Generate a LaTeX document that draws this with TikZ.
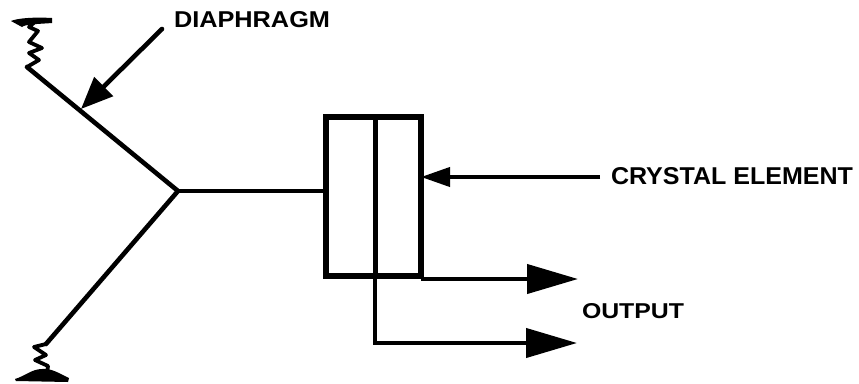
\documentclass[tikz,border=0pt]{standalone}
\usepackage{fontspec}
\setmainfont{Liberation Sans}
\usetikzlibrary{arrows.meta}
\newcommand{\fitlabel}[3]{\resizebox{#1pt}{#2pt}{\bfseries #3}}
\tikzset{
 x=1pt,y=-1pt,
 wire/.style={line width=4.6pt,draw=black,line cap=round,line join=round},
 boxline/.style={line width=6pt,draw=black},
 spring/.style={line width=3.8pt,draw=black,line join=round,line cap=round},
 bigtip/.style={line width=4.2pt,draw=black,line cap=butt,line join=miter,-{Triangle[length=51pt,width=29pt]}},
 smalltip/.style={line width=4pt,draw=black,line cap=butt,-{Triangle[length=29pt,width=19pt]}},
 difftip/.style={line width=4.6pt,draw=black,line cap=round,-{Triangle[length=32pt,width=26pt]}},
 lab/.style={inner sep=0pt,outer sep=0pt,anchor=west,text=black},
}
\begin{document}
\begin{tikzpicture}
\useasboundingbox (0,0) rectangle (859,383);
% hub and diaphragm
\coordinate (hub) at (178,191);
\coordinate (upper) at (27,67);
\coordinate (lower) at (46,344);
\coordinate (dtip) at (81,109);
\coordinate (dtail) at (162,29);
\draw[wire] (upper) -- (hub) -- (lower);
% crystal element
\node[boxline,rectangle,outer sep=0pt,minimum width=95pt,minimum height=159pt,inner sep=0pt,anchor=north west] (box) at (326,117) {};
\coordinate (boxtop) at (375,117);
\coordinate (turn) at (375,343);
\coordinate (out1) at (578,279);
\coordinate (out2) at (577,343);
\coordinate (ctail) at (600,177);
\draw[line width=3.6pt] (hub) -- (box.west |- hub);
\draw[boxline,line width=5pt] (boxtop) -- (boxtop |- box.south);
% outputs
\draw[bigtip] (box.east |- out1) -- (out1);
\draw[bigtip] (boxtop |- box.south) -- (turn) -- (out2);
% pointers
\draw[difftip] (dtail) -- (dtip);
\draw[smalltip] (ctail) -- (box.east |- ctail);
% upper spring
\draw[spring] (upper) -- (39,60) -- (29,53) -- (42,48) -- (29,42) -- (38,31) -- (29,27) -- (36,21);
\fill (11,21) .. controls (18,18) and (35,17) .. (52,18) -- (52,23) .. controls (40,24) and (25,24) .. (22,27) -- cycle;
% lower spring
\draw[spring] (lower) -- (34,347) -- (46,355) -- (35,360) -- (48,366) -- (47,374);
\fill (15,379) .. controls (25,376) and (32,369) .. (42,369) .. controls (52,368) and (60,374) .. (69,378) -- (68,382) -- (16,381) -- cycle;
% labels
\node[lab] (diaphragm) at (174,20) {\fitlabel{156}{16}{DIAPHRAGM}};
\node[lab] (crystal) at (611,176) {\fitlabel{242}{17}{CRYSTAL ELEMENT}};
\node[lab] (output) at (582,311) {\fitlabel{102}{15}{OUTPUT}};
\end{tikzpicture}
\end{document}
